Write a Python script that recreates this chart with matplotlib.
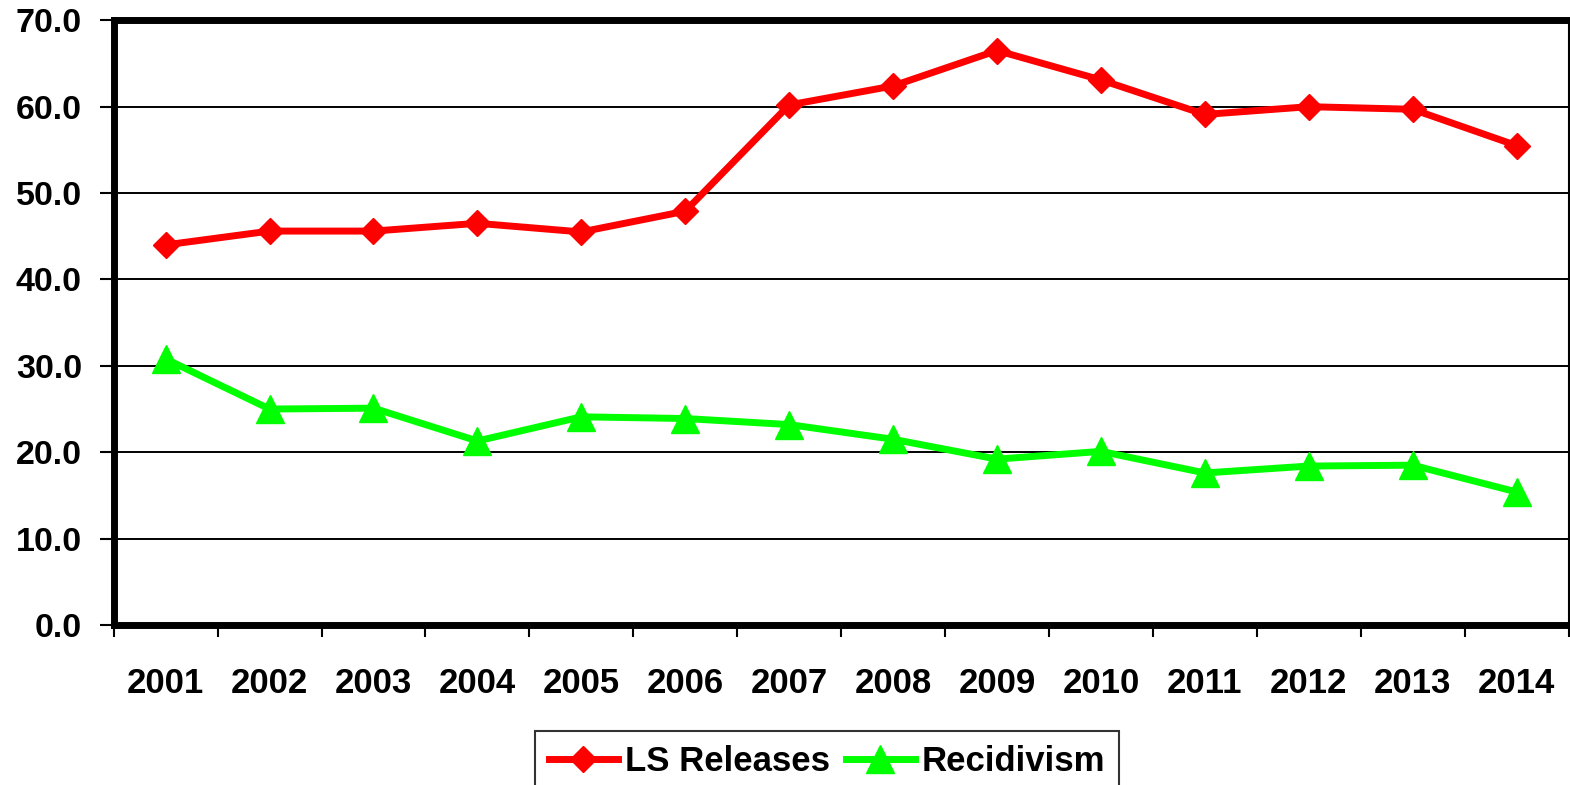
import matplotlib
matplotlib.use("Agg")
import matplotlib.pyplot as plt
import numpy as np

years = ["2001", "2002", "2003", "2004", "2005", "2006", "2007",
         "2008", "2009", "2010", "2011", "2012", "2013", "2014"]
ls_releases = [44.0, 45.6, 45.6, 46.5, 45.5, 47.9, 60.2,
               62.4, 66.5, 63.1, 59.1, 60.0, 59.7, 55.5]
recidivism = [30.8, 25.0, 25.1, 21.3, 24.1, 23.9, 23.2,
              21.5, 19.2, 20.1, 17.6, 18.4, 18.5, 15.4]
y_ticks = [0, 10, 20, 30, 40, 50, 60, 70]

plt.rcParams['font.family'] = ['Liberation Sans', 'DejaVu Sans']
plt.rcParams['font.weight'] = 'bold'

fig = plt.figure(figsize=(15.7, 7.85), dpi=100)
ax = fig.add_axes([113.7/1570, 1-625/785, (1568.5-113.7)/1570, (625-20.3)/785])

x = np.arange(len(years))
ax.plot(x, ls_releases, color='#ff0000', lw=5, marker='D', markersize=13.5,
        label='LS Releases', zorder=4, clip_on=False)
ax.plot(x, recidivism, color='#00ff00', lw=5, marker='^', markersize=20,
        label='Recidivism', zorder=4, clip_on=False)

ax.set_xlim(-0.5, len(years) - 0.5)
ax.set_ylim(0, 70)
ax.set_yticks(y_ticks)
ax.set_yticklabels([f"{v:.1f}" for v in y_ticks])
ax.yaxis.grid(True, color='black', lw=1.4, zorder=1)
ax.set_axisbelow(True)

ax.set_xticks(x)
ax.set_xticklabels(years)
ax.set_xticks(np.arange(-0.5, len(years) - 0.4, 1.0), minor=True)
ax.tick_params(axis='x', which='major', length=0, pad=30, labelsize=25)
ax.tick_params(axis='x', which='minor', length=8.6, width=1.5, direction='out')
ax.tick_params(axis='y', length=9.9, width=1.5, direction='out', pad=13, labelsize=24.5)

for s in ['left', 'top', 'bottom']:
    ax.spines[s].set_linewidth(5)
ax.spines['right'].set_linewidth(1.5)
for s in ax.spines.values():
    s.set_color('black')
    s.set_zorder(3)

for lab in ax.get_xticklabels() + ax.get_yticklabels():
    lab.set_fontweight('bold')

leg = fig.legend(loc='upper center', bbox_to_anchor=(827/1570, 1-731/785),
                 ncol=2, fontsize=25, frameon=True, fancybox=False, shadow=False,
                 handlelength=2.0, handletextpad=0.2, columnspacing=0.45,
                 borderpad=0.4, borderaxespad=0)
leg.get_frame().set_edgecolor('black')
leg.get_frame().set_linewidth(1.5)
for t in leg.get_texts():
    t.set_fontweight('bold')

fig.savefig('out.png', dpi=100)
